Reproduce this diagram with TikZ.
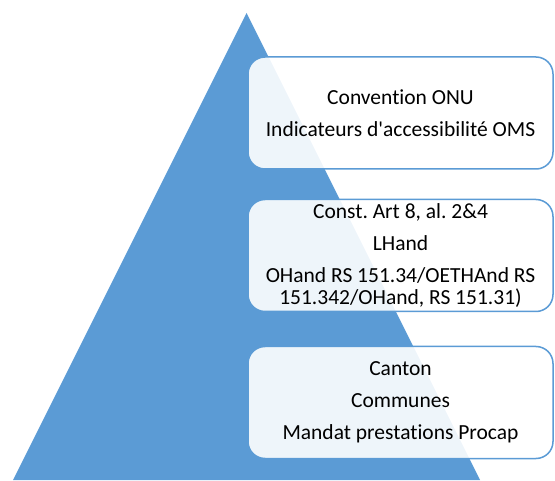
\documentclass[tikz,border=0pt]{standalone}
\usepackage{fontspec}
\setmainfont{Carlito}[Ligatures = {TeXOff, NoCommon}]
\frenchspacing
\definecolor{pyrblue}{HTML}{5B9BD5}

\begin{document}
\begin{tikzpicture}[x = 1pt, y = 1pt,
    level/.style = {draw = pyrblue, line width = 1.5pt, rounded corners = 17pt,
        fill = white, fill opacity = 0.9, text opacity = 1,
        minimum width = 305pt, minimum height = 112pt,
        inner sep = 0pt, align = center, font = \fontsize{21.5}{22}\selectfont}]
\useasboundingbox (0,0) rectangle (555,480);
% pyramid
\fill[pyrblue] (13,0) -- (246.5,467) -- (480,0) -- cycle;
% levels
\node[level] (onu) at (400.5,367)
    {Convention ONU\\[10pt]Indicateurs d'accessibilité OMS};
\node[level] (federal) at (400.5,224.5)
    {Const. Art 8, al. 2\&4\\[10pt]LHand\\[10pt]OHand RS 151.34/OETHAnd RS\\151.342/OHand, RS 151.31)};
\node[level] (cantonal) at (400.5,77.5)
    {Canton\\[10pt]Communes\\[10pt]Mandat prestations Procap};
\end{tikzpicture}
\end{document}
